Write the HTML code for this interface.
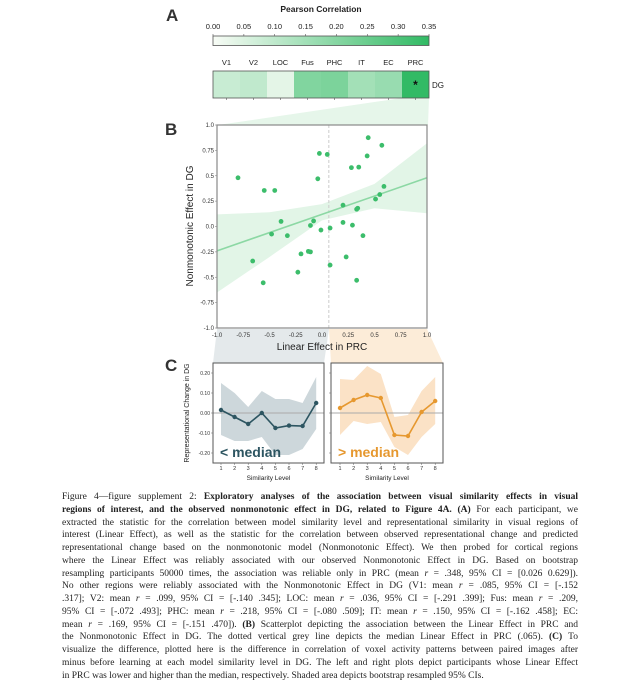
<!DOCTYPE html>
<html><head><meta charset="utf-8">
<style>
body{margin:0;background:#fff;width:626px;height:699px;overflow:hidden;position:relative;font-family:"Liberation Sans",sans-serif}
svg{position:absolute;left:0;top:0}
#cap{position:absolute;left:62px;top:491px;width:516px;font-family:"Liberation Serif",serif;font-size:9.5px;line-height:12.75px;color:#222}
#cap div{text-align:justify;text-align-last:justify;white-space:nowrap;overflow:visible}
#cap div.last{text-align-last:left}
</style></head><body>
<svg id="fig" width="626" height="699" font-family="Liberation Sans, sans-serif"></svg>
<div id="cap">
<div>Figure 4—figure supplement 2: <b>Exploratory analyses of the association between visual similarity effects in visual</b></div>
<div><b>regions of interest, and the observed nonmonotonic effect in DG, related to Figure 4A.</b> <b>(A)</b> For each participant, we</div>
<div>extracted the statistic for the correlation between model similarity level and representational similarity in visual regions of</div>
<div>interest (Linear Effect), as well as the statistic for the correlation between observed representational change and predicted</div>
<div>representational change based on the nonmonotonic model (Nonmonotonic Effect). We then probed for cortical regions</div>
<div>where the Linear Effect was reliably associated with our observed Nonmonotonic Effect in DG. Based on bootstrap</div>
<div>resampling participants 50000 times, the association was reliable only in PRC (mean <i>r</i> = .348, 95% CI = [0.026 0.629]).</div>
<div>No other regions were reliably associated with the Nonmonotonic Effect in DG (V1: mean <i>r</i> = .085, 95% CI = [-.152</div>
<div>.317]; V2: mean <i>r</i> = .099, 95% CI = [-.140 .345]; LOC: mean <i>r</i> = .036, 95% CI = [-.291 .399]; Fus: mean <i>r</i> = .209,</div>
<div>95% CI = [-.072 .493]; PHC: mean <i>r</i> = .218, 95% CI = [-.080 .509]; IT: mean <i>r</i> = .150, 95% CI = [-.162 .458]; EC:</div>
<div>mean <i>r</i> = .169, 95% CI = [-.151 .470]). <b>(B)</b> Scatterplot depicting the association between the Linear Effect in PRC and</div>
<div>the Nonmonotonic Effect in DG. The dotted vertical grey line depicts the median Linear Effect in PRC (.065). <b>(C)</b> To</div>
<div>visualize the difference, plotted here is the difference in correlation of voxel activity patterns between paired images after</div>
<div>minus before learning at each model similarity level in DG. The left and right plots depict participants whose Linear Effect</div>
<div class="last">in PRC was lower and higher than the median, respectively. Shaded area depicts bootstrap resampled 95% CIs.</div>
</div>
<script>
const regions=["V1","V2","LOC","Fus","PHC","IT","EC","PRC"];
const corrValues=[0.085,0.099,0.036,0.209,0.218,0.150,0.169,0.348];
const cbarTicks=["0.00","0.05","0.10","0.15","0.20","0.25","0.30","0.35"];
const linearX=[-0.80,-0.55,-0.45,-0.39,-0.48,-0.33,-0.66,-0.56,-0.23,-0.20,-0.13,-0.11,-0.11,-0.08,-0.01,-0.04,-0.025,0.05,0.077,0.077,0.20,0.20,0.29,0.23,0.28,0.35,0.33,0.34,0.33,0.39,0.43,0.44,0.57,0.51,0.55,0.59];
const nonmonoY=[0.48,0.355,0.355,0.05,-0.075,-0.09,-0.34,-0.555,-0.45,-0.27,-0.245,-0.25,0.01,0.055,-0.035,0.47,0.72,0.71,-0.015,-0.38,0.21,0.04,0.013,-0.30,0.58,0.585,0.17,0.18,-0.53,-0.09,0.695,0.875,0.80,0.27,0.315,0.395];
const fitEnds=[-0.24,0.48];
const bandX=[-1,-0.5,0,0.5,1];
const bandUpper=[0.12,0.14,0.22,0.42,0.82];
const bandLower=[-0.65,-0.3,0.06,0.18,0.13];
const scatterTicks=[-1,-0.75,-0.5,-0.25,0,0.25,0.5,0.75,1];
const medianLinear=0.065;
const levels=[1,2,3,4,5,6,7,8];
const lowMean=[0.015,-0.02,-0.055,0.0,-0.075,-0.063,-0.065,0.05];
const lowUpper=[0.15,0.10,0.03,0.11,0.07,0.07,0.05,0.18];
const lowLower=[-0.11,-0.14,-0.14,-0.12,-0.21,-0.21,-0.18,-0.08];
const highMean=[0.025,0.065,0.09,0.075,-0.11,-0.115,0.005,0.06];
const highUpper=[0.17,0.165,0.235,0.195,-0.02,-0.01,0.11,0.18];
const highLower=[-0.11,-0.04,-0.055,-0.045,-0.17,-0.21,-0.12,-0.055];
const cTicks=[0.2,0.1,0,-0.1,-0.2];

const S=document.getElementById('fig');const NS='http://www.w3.org/2000/svg';
function el(t,a,p){const e=document.createElementNS(NS,t);for(const k in a)e.setAttribute(k,a[k]);(p||S).appendChild(e);return e;}
function tx(x,y,s,a){const e=el('text',Object.assign({x:x,y:y},a||{}));e.textContent=s;return e;}
function green(v){const t=Math.max(0,Math.min(1,v/0.35));const c0=[248,252,246],c1=[49,186,100];return 'rgb('+c0.map((c,i)=>Math.round(c+(c1[i]-c)*t)).join(',')+')';}

// connecting wedges
let w=el('polygon',{points:'402,98 429,98 428,125 218,125',fill:'#e6f6ea'});

// Panel A
let L=tx(166,21,'A',{'font-size':17,'font-weight':'bold',fill:'#333'});

let ct=tx(321,12,'Pearson Correlation',{'font-size':8.5,'font-weight':'bold','text-anchor':'middle',fill:'#222'});

const defs=el('defs',{});const lg=el('linearGradient',{id:'cg',x1:0,x2:1,y1:0,y2:0},defs);
for(let i=0;i<=10;i++)el('stop',{offset:i/10,'stop-color':green(0.035*i)},lg);
let cb=el('rect',{x:213,y:36,width:216,height:9.5,fill:'url(#cg)',stroke:'#555','stroke-width':0.8});

const cbx=v=>213+v/0.35*216;
cbarTicks.forEach((s,i)=>{const v=parseFloat(s);let t=tx(cbx(v),29,s,{'font-size':7.5,'text-anchor':'middle',fill:'#222'});

el('line',{x1:cbx(v),x2:cbx(v),y1:34,y2:36,stroke:'#555','stroke-width':0.6});});
const cw=216/8;
regions.forEach((r,i)=>{const x=213+i*cw;
let c=el('rect',{x:x,y:71,width:cw,height:27,fill:green(corrValues[i])});

let t=tx(x+cw/2,65,r,{'font-size':7.5,'text-anchor':'middle',fill:'#222'});

el('line',{x1:x+cw/2,x2:x+cw/2,y1:98,y2:100,stroke:'#555','stroke-width':0.6});});
el('rect',{x:213,y:71,width:216,height:27,fill:'none',stroke:'#555','stroke-width':0.8});
let st=tx(213+7.5*cw,89,'*',{'font-size':12,'font-weight':'bold','text-anchor':'middle',fill:'#111'});

let dg=tx(432,88,'DG',{'font-size':8,fill:'#222'});


// Panel B
const bx=v=>217+(v+1)/2*210, by=v=>125+(1-v)/2*203;
w=el('polygon',{points:'217,329 329,329 324,363 213,363',fill:'#e4e9eb'});

w=el('polygon',{points:'329,329 427,329 443,363 331,363',fill:'#fcecd8'});

el('rect',{x:217,y:125,width:210,height:203,fill:'#fff'});
L=tx(165,135,'B',{'font-size':17,'font-weight':'bold',fill:'#333'});

let pts=bandX.map((v,i)=>bx(v)+','+by(bandUpper[i])).concat(bandX.slice().reverse().map((v,i)=>bx(v)+','+by(bandLower[bandX.length-1-i])));
let band=el('polygon',{points:pts.join(' '),fill:'#e2f5e7'});

let ml=el('line',{x1:bx(medianLinear),x2:bx(medianLinear),y1:125,y2:328,stroke:'#ccc','stroke-width':1,'stroke-dasharray':'3,2'});

let rl=el('line',{x1:bx(-1),y1:by(fitEnds[0]),x2:bx(1),y2:by(fitEnds[1]),stroke:'#8cd8a4','stroke-width':1.6});

linearX.forEach((v,i)=>{let c=el('circle',{cx:bx(v),cy:by(nonmonoY[i]),r:2.4,fill:'#3cbd6b'});
});
el('rect',{x:217,y:125,width:210,height:203,fill:'none',stroke:'#888','stroke-width':1.2});
scatterTicks.forEach(v=>{const lab=(v===1||v===-1)?v.toFixed(1):(v===0?'0.0':String(v).replace(/^(-?)0\./,'$10.'));
let t=tx(214,by(v)+2,lab,{'font-size':6,'text-anchor':'end',fill:'#333'});

t=tx(bx(v),337,lab,{'font-size':6,'text-anchor':'middle',fill:'#333'});

el('line',{x1:215,x2:217,y1:by(v),y2:by(v),stroke:'#888','stroke-width':0.6});});
let xl=tx(322,350,'Linear Effect in PRC',{'font-size':10,'text-anchor':'middle',fill:'#222'});

let yl=tx(0,0,'Nonmonotonic Effect in DG',{'font-size':10,'text-anchor':'middle',fill:'#222',transform:'translate(193,226) rotate(-90)'});


// Panel C
L=tx(165,371,'C',{'font-size':17,'font-weight':'bold',fill:'#333'});

const cy=v=>413-v*200;
function sub(x0,x1,xs,mean,up,lo,col,shade,label,name){
 const cx=l=>xs+(l-1)*13.6;
 el('rect',{x:x0,y:363,width:x1-x0,height:100,fill:'#fff'});
 let p=levels.map((l,i)=>cx(l)+','+cy(up[i])).concat(levels.slice().reverse().map((l,j)=>cx(l)+','+cy(lo[levels.length-1-j])));
 let b=el('polygon',{points:p.join(' '),fill:shade});
 
 el('line',{x1:x0,x2:x1,y1:cy(0),y2:cy(0),stroke:'#aaa','stroke-width':1});
 let ln=el('polyline',{points:levels.map((l,i)=>cx(l)+','+cy(mean[i])).join(' '),fill:'none',stroke:col,'stroke-width':1.6});
 
 levels.forEach((l,i)=>{let c=el('circle',{cx:cx(l),cy:cy(mean[i]),r:2.2,fill:col});
 
 let t=tx(cx(l),470,String(l),{'font-size':5.5,'text-anchor':'middle',fill:'#333'});
 
 el('line',{x1:cx(l),x2:cx(l),y1:463,y2:465,stroke:'#666','stroke-width':0.5});});
 let m=tx(x0+7,457,label,{'font-size':14,'font-weight':'bold',fill:col,'font-family':'Liberation Sans Narrow, Liberation Sans, sans-serif'});
 
 el('rect',{x:x0,y:363,width:x1-x0,height:100,fill:'none',stroke:'#555','stroke-width':1});
 let s=tx((x0+x1)/2,480,'Similarity Level',{'font-size':6.5,'text-anchor':'middle',fill:'#222'});
 
 cTicks.forEach(v=>el('line',{x1:x0-2,x2:x0,y1:cy(v),y2:cy(v),stroke:'#666','stroke-width':0.5}));
}
sub(213,324,221,lowMean,lowUpper,lowLower,'#2d5561','#cdd7db','< median','below-median');
sub(331,443,340,highMean,highUpper,highLower,'#e6982f','#fbe2c6','> median','above-median');
cTicks.forEach(v=>{let t=tx(210,cy(v)+2,v.toFixed(2),{'font-size':5,'text-anchor':'end',fill:'#333'});
});
let cyl=tx(0,0,'Representational Change in DG',{'font-size':7,'text-anchor':'middle',fill:'#222',transform:'translate(189,413) rotate(-90)'});

</script>
</body></html>
